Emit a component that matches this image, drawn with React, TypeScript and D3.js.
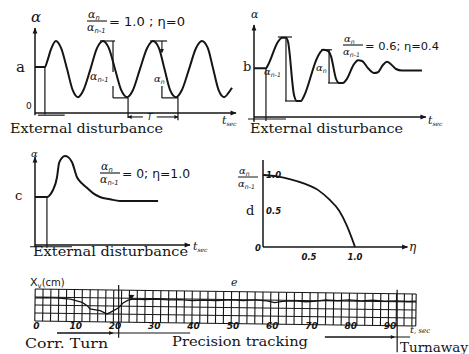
// ─ Imports ──────────────────────────────────────────────────────────────────────────────────────
import * as d3 from 'd3';
import { ReactElement } from 'react';

// ─ Data ─────────────────────────────────────────────────────────────────────────────────────────
// panel a — sustained oscillation, [t, α]
const waveA: [number, number][] = [
  [0, 0.64], [0.5, 0.64], [0.62, 0.72], [0.8, 0.88], [1.06, 1.0], [1.32, 0.9], [1.62, 0.61],
  [1.9, 0.32], [2.17, 0.22], [2.45, 0.32], [2.8, 0.61], [3.13, 0.9], [3.43, 1.0], [3.73, 0.9],
  [4.04, 0.61], [4.35, 0.32], [4.65, 0.22], [4.95, 0.32], [5.3, 0.61], [5.66, 0.9], [5.96, 1.0],
  [6.26, 0.9], [6.54, 0.61], [6.82, 0.32], [7.12, 0.22], [7.42, 0.32], [7.78, 0.61], [8.13, 0.9],
  [8.43, 1.0], [8.73, 0.9], [9.0, 0.61], [9.27, 0.32], [9.55, 0.22], [9.8, 0.29], [9.95, 0.35]
];

// panel b — damped oscillation, [t, α]
const waveB: [number, number][] = [
  [0, 0.61], [0.7, 0.61], [0.82, 0.65], [1.4, 0.94], [1.64, 0.99], [1.87, 0.99], [1.99, 0.94],
  [2.34, 0.275], [2.51, 0.2], [2.75, 0.2], [2.92, 0.26], [3.74, 0.76], [4.04, 0.84], [4.33, 0.825],
  [4.5, 0.76], [4.8, 0.475], [4.97, 0.425], [5.2, 0.425], [5.38, 0.46], [5.85, 0.66], [6.08, 0.71],
  [6.32, 0.7], [6.67, 0.61], [7.02, 0.55], [7.25, 0.56], [7.54, 0.65], [7.78, 0.69], [8.01, 0.66],
  [8.3, 0.6], [8.65, 0.58], [9.82, 0.58]
];

// panel c — aperiodic response, [t, α]
const waveC: [number, number][] = [
  [0, 0.545], [0.77, 0.545], [0.97, 0.57], [1.16, 0.625], [1.42, 0.77], [1.55, 0.93], [1.74, 0.99],
  [1.94, 1.01], [2.13, 1.0], [2.39, 0.94], [2.71, 0.77], [3.03, 0.7], [3.35, 0.65], [3.74, 0.59],
  [4.19, 0.545], [4.84, 0.52], [5.48, 0.5], [7.94, 0.5]
];

// panel d — amplitude ratio vs η
const etaD = [0, 0.15, 0.3, 0.45, 0.6, 0.72, 0.83, 0.91, 0.96, 1.0];
const ratioD = [1.0, 0.98, 0.94, 0.88, 0.79, 0.66, 0.5, 0.3, 0.14, 0.0];
const dTicks = [0.5, 1.0];

// panel e — X_v trace
const traceT = [
  0, 3, 6, 9, 12, 13.3, 14, 16.6, 17.5, 18.4, 19.2, 19.9, 21.2, 22.4, 23.7, 25, 28, 31, 34, 37, 40,
  43, 46, 50, 53, 56, 59, 61, 63, 66, 69, 71, 74, 77, 80, 83, 86, 89, 92, 95, 97
];
const traceX = [
  2.9, 2.95, 2.9, 2.8, 2.4, 2.0, 1.6, 1.4, 1.2, 1.0, 1.2, 1.4, 1.75, 2.4, 2.75, 2.9, 2.85, 2.95, 2.85,
  2.9, 2.8, 2.9, 2.85, 2.95, 2.9, 3.0, 2.9, 2.7, 2.85, 2.95, 2.85, 2.9, 3.1, 3.05, 3.15, 3.05, 3.15,
  3.05, 3.1, 3.05, 3.1
];
const stripTicks = [0, 10, 20, 30, 40, 50, 60, 70, 80, 90];

// annotation segments [t1, v1, t2, v2]
const annA: [number, number, number, number][] = [
  [3.28, 1.0, 4.04, 1.0], [3.94, 1.0, 3.94, 0.57], [3.94, 0.375, 3.94, 0.21], [3.94, 0.21, 4.7, 0.21],
  [4.7, 0.21, 4.7, -0.07], [7.22, 0.22, 7.22, -0.1], [5.81, 1.0, 6.67, 1.0], [6.41, 0.375, 6.41, 0.21],
  [6.41, 0.21, 7.22, 0.21], [0.5, 0.64, 0.5, -0.02], [0.15, -0.03, 1.5, -0.03]
];
const annB: [number, number, number, number][] = [
  [1.4, 1.0, 2.22, 1.0], [1.87, 1.0, 1.87, 0.2], [1.81, 0.2, 2.57, 0.2], [3.92, 0.84, 4.56, 0.84],
  [4.39, 0.84, 4.39, 0.425], [4.33, 0.425, 5.03, 0.425], [0.7, 0.61, 0.7, -0.05], [-0.35, -0.025, 1.87, -0.025]
];
const annC: [number, number, number, number][] = [
  [0.77, 0.545, 0.77, -0.03], [-0.32, -0.02, 2.39, -0.02]
];

// ─ Scales ───────────────────────────────────────────────────────────────────────────────────────
const xA = d3.scaleLinear().domain([0, 10]).range([35, 233]);
const yA = d3.scaleLinear().domain([0, 1]).range([113, 41]);
const xB = d3.scaleLinear().domain([0, 10]).range([254, 425]);
const yB = d3.scaleLinear().domain([0, 1]).range([117, 37]);
const xC = d3.scaleLinear().domain([0, 10]).range([35, 190]);
const yC = d3.scaleLinear().domain([0, 1]).range([245, 157]);
const xD = d3.scaleLinear().domain([0, 1]).range([263, 355]);
const yD = d3.scaleLinear().domain([0, 1]).range([247, 175]);
const xE = d3.scaleLinear().domain([0, 97]).range([35, 416]);
const yE = d3.scaleLinear().domain([0, 4]).range([321, 289]);

const INK = '#151515';
const SERIF = 'DejaVu Serif, serif';
const SANS = 'DejaVu Sans, sans-serif';

const curve = (x: d3.ScaleLinear<number, number>, y: d3.ScaleLinear<number, number>, pts: [number, number][]) =>
  d3.line<[number, number]>().x(d => x(d[0])).y(d => y(d[1])).curve(d3.curveMonotoneX)(pts) || '';

const Segs = ({ x, y, segs }: { x: d3.ScaleLinear<number, number>; y: d3.ScaleLinear<number, number>; segs: [number, number, number, number][] }) => (
  <g stroke={INK} strokeWidth={1.2}>
    {segs.map((s, i) => <line key={i} x1={x(s[0])} y1={y(s[1])} x2={x(s[2])} y2={y(s[3])} />)}
  </g>
);

const Alpha = ({ x, y, sub, size = 11 }: { x: number; y: number; sub?: string; size?: number }) => (
  <text x={x} y={y} fontFamily={SERIF} fontStyle="italic" fontSize={size} fill={INK}>
    α{sub && <tspan fontSize={size * 0.62} fontFamily={SANS} dy={size * 0.2}>{sub}</tspan>}
  </text>
);

const Ratio = ({ x, y, eq, eqWidth, size = 11 }: { x: number; y: number; eq: string; eqWidth: number; size?: number }) => (
  <g>
    <Alpha x={x + 1} y={y} sub="n" size={size} />
    <line x1={x} x2={x + 20} y1={y + 3} y2={y + 3} stroke={INK} strokeWidth={1.1} />
    <Alpha x={x} y={y + 13} sub="n-1" size={size} />
    <text x={x + 22} y={y + 8} fontFamily={SANS} fontSize={size + 1} fill={INK}
      textLength={eqWidth} lengthAdjust="spacingAndGlyphs">{eq}</text>
  </g>
);

const TSec = ({ x, y }: { x: number; y: number }) => (
  <text x={x} y={y} fontFamily={SERIF} fontStyle="italic" fontSize={11} fill={INK}>
    t<tspan fontSize={6} dy={2}>sec</tspan>
  </text>
);

const Caption = ({ x, y, w, label }: { x: number; y: number; w: number; label: string }) => (
  <text x={x} y={y} fontFamily={SERIF} fontSize={13} fill={INK} textLength={w} lengthAdjust="spacingAndGlyphs">{label}</text>
);

// ─ Component ────────────────────────────────────────────────────────────────────────────────────
const App = (): ReactElement => {
  const dLine = d3.line<number>().x(d => xD(d)).y((_, i) => yD(ratioD[i])).curve(d3.curveMonotoneX)(etaD) || '';
  const trace = d3.line<number>().x(d => xE(d)).y((_, i) => yE(traceX[i])).curve(d3.curveLinear)(traceT) || '';
  const gridT = d3.range(0, 97, 2).concat([97]);
  const gridV = [0, 1, 2, 3, 4];

  return (
    <svg width={469} height={354} style={{ position: 'absolute', left: 0, top: 0, background: '#fff' }}>
      <defs>
        <marker id="ah" viewBox="0 0 10 10" refX="9" refY="5" markerWidth="8" markerHeight="6"
          orient="auto" markerUnits="userSpaceOnUse">
          <path d="M0,1L10,5L0,9z" fill={INK} />
        </marker>
        <marker id="sh" viewBox="0 0 10 10" refX="9" refY="5" markerWidth="5" markerHeight="4"
          orient="auto" markerUnits="userSpaceOnUse">
          <path d="M0,0L10,5L0,10z" fill={INK} />
        </marker>
      </defs>

      {/* ── panel a ── */}
      <g stroke={INK} strokeWidth={1.5} fill="none">
        <line x1={xA(0)} y1={yA(-0.03)} x2={xA(0)} y2={yA(1.18)} markerEnd="url(#ah)" />
        <line x1={xA(0)} y1={yA(0)} x2={xA(10.15)} y2={yA(0)} markerEnd="url(#ah)" />
        <path d={curve(xA, yA, waveA)} strokeWidth={2} />
      </g>
      <Segs x={xA} y={yA} segs={annA} />
      <g stroke={INK} strokeWidth={1.1}>
        <line x1={xA(6.41)} y1={yA(1.0)} x2={xA(6.41)} y2={yA(0.84)} markerEnd="url(#sh)" />
        <line x1={xA(5.45)} y1={yA(-0.055)} x2={xA(4.7)} y2={yA(-0.055)} markerEnd="url(#sh)" />
        <line x1={xA(6.15)} y1={yA(-0.055)} x2={xA(7.22)} y2={yA(-0.055)} markerEnd="url(#sh)" />
      </g>
      <text x={xA(5.8)} y={yA(-0.055) + 3.5} fontFamily={SANS} fontSize={9} fontStyle="italic" textAnchor="middle" fill={INK}>T</text>
      <Alpha x={90} y={80} sub="n-1" size={11} />
      <Alpha x={154} y={82} sub="n" size={10} />
      <Alpha x={31} y={22} size={15} />
      <text x={16} y={72} fontFamily={SERIF} fontSize={15} fill={INK}>a</text>
      <text x={26} y={109} fontFamily={SANS} fontSize={9} fill={INK}>0</text>
      <TSec x={222} y={124} />
      <Ratio x={87} y={18} eq="= 1.0 ; η=0" eqWidth={76} />
      <Caption x={10} y={133} w={153} label="External disturbance" />

      {/* ── panel b ── */}
      <g stroke={INK} strokeWidth={1.5} fill="none">
        <line x1={xB(0)} y1={yB(-0.06)} x2={xB(0)} y2={yB(1.15)} markerEnd="url(#ah)" />
        <line x1={xB(0)} y1={yB(0)} x2={xB(10.05)} y2={yB(0)} markerEnd="url(#ah)" />
        <path d={curve(xB, yB, waveB)} strokeWidth={2} />
      </g>
      <Segs x={xB} y={yB} segs={annB} />
      <Alpha x={264} y={75} sub="n-1" size={10} />
      <Alpha x={316} y={71} sub="n" size={10} />
      <Alpha x={251} y={18} size={11} />
      <text x={243} y={71} fontFamily={SERIF} fontSize={13} fill={INK}>b</text>
      <TSec x={428} y={124} />
      <Ratio x={343} y={42} eq="= 0.6; η=0.4" eqWidth={74} size={10} />
      <Caption x={250} y={133} w={153} label="External disturbance" />

      {/* ── panel c ── */}
      <g stroke={INK} strokeWidth={1.5} fill="none">
        <line x1={xC(0)} y1={yC(-0.02)} x2={xC(0)} y2={yC(1.0)} markerEnd="url(#ah)" />
        <line x1={xC(0)} y1={yC(0)} x2={xC(10)} y2={yC(0)} markerEnd="url(#ah)" />
        <path d={curve(xC, yC, waveC)} strokeWidth={2} />
      </g>
      <Segs x={xC} y={yC} segs={annC} />
      <Alpha x={31} y={157} size={10} />
      <text x={15} y={200} fontFamily={SERIF} fontSize={13} fill={INK}>c</text>
      <TSec x={193} y={250} />
      <Ratio x={100} y={170} eq="= 0; η=1.0" eqWidth={68} />
      <Caption x={33} y={256} w={155} label="External disturbance" />

      {/* ── panel d ── */}
      <g stroke={INK} strokeWidth={1.5} fill="none">
        <line x1={xD(0)} y1={yD(0)} x2={xD(0)} y2={yD(1.21)} />
        <line x1={xD(0)} y1={yD(0)} x2={xD(1.57)} y2={yD(0)} markerEnd="url(#ah)" />
        <path d={dLine} strokeWidth={1.8} />
      </g>
      <g fontFamily={SANS} fontStyle="italic" fontWeight="bold" fontSize={8.5} fill={INK}>
        {dTicks.map(v => <text key={`y${v}`} x={xD(0) + 3} y={yD(v) + 3} >{v.toFixed(1)}</text>)}
        {dTicks.map(v => <text key={`x${v}`} x={xD(v)} y={yD(0) + 13} textAnchor="middle">{v.toFixed(1)}</text>)}
        <text x={xD(0) - 8} y={yD(0) + 4}>0</text>
      </g>
      <text x={409} y={251} fontFamily={SERIF} fontStyle="italic" fontSize={12} fill={INK}>η</text>
      <text x={246} y={215} fontFamily={SERIF} fontSize={13} fill={INK}>d</text>
      <Alpha x={239} y={174} sub="n" size={10} />
      <line x1={238} x2={258} y1={177} y2={177} stroke={INK} strokeWidth={1} />
      <Alpha x={238} y={187} sub="n-1" size={10} />

      {/* ── panel e ── */}
      <g transform="rotate(0.75 35 305)">
        <g stroke={INK} strokeWidth={1.1}>
          {gridT.map(t => <line key={`v${t}`} x1={xE(t)} x2={xE(t)} y1={yE(0)} y2={yE(4)} />)}
          {gridV.map(v => <line key={`h${v}`} x1={xE(0)} x2={xE(97)} y1={yE(v)} y2={yE(v)} />)}
        </g>
        <path d={trace} fill="none" stroke={INK} strokeWidth={1.3} />
        <path d={`M${xE(24.5) - 3},${yE(3.05) - 3}L${xE(24.5) + 3},${yE(3.05) - 3}L${xE(24.5)},${yE(3.05) + 2}z`} fill={INK} />
      </g>
      <g fontFamily={SANS} fontStyle="italic" fontWeight="bold" fontSize={9} fill={INK} textAnchor="middle">
        {stripTicks.map(t => <text key={t} x={xE(t) + 1.5} y={329}>{t}</text>)}
      </g>
      <g stroke={INK} strokeWidth={1.2}>
        <line x1={xE(21.3)} x2={xE(21.3)} y1={yE(4.5)} y2={yE(-2.1)} />
        <line x1={xE(5.6)} x2={xE(39.5)} y1={yE(-1.5)} y2={yE(-1.5)} />
        <line x1={xE(5.6)} x2={xE(19.8)} y1={yE(-1.5)} y2={yE(-1.5)} markerEnd="url(#sh)" />
        <line x1={xE(73.8)} x2={xE(95.5)} y1={yE(-2.0)} y2={yE(-2.0)} />
        <line x1={xE(73.8)} x2={xE(91.5)} y1={yE(-2.0)} y2={yE(-2.0)} markerEnd="url(#sh)" />
        <line x1={xE(92.2)} x2={xE(92.2)} y1={yE(3.9)} y2={yE(-3.9)} />
      </g>
      <text x={30} y={286} fontFamily={SANS} fontSize={11} fill={INK}>
        X<tspan fontSize={7} dy={2}>v</tspan><tspan dy={-2} fontSize={10}>(cm)</tspan>
      </text>
      <text x={231} y={286} fontFamily={SERIF} fontStyle="italic" fontSize={11} fill={INK}>e</text>
      <text x={410} y={333} fontFamily={SERIF} fontStyle="italic" fontSize={10} fill={INK}>
        t<tspan fontSize={7}>, sec</tspan>
      </text>
      <Caption x={25} y={348} w={83} label="Corr. Turn" />
      <Caption x={172} y={346} w={136} label="Precision tracking" />
      <Caption x={400} y={352} w={68} label="Turnaway" />
    </svg>
  );
};

// ─ Exports ──────────────────────────────────────────────────────────────────────────────────────
export default App;
